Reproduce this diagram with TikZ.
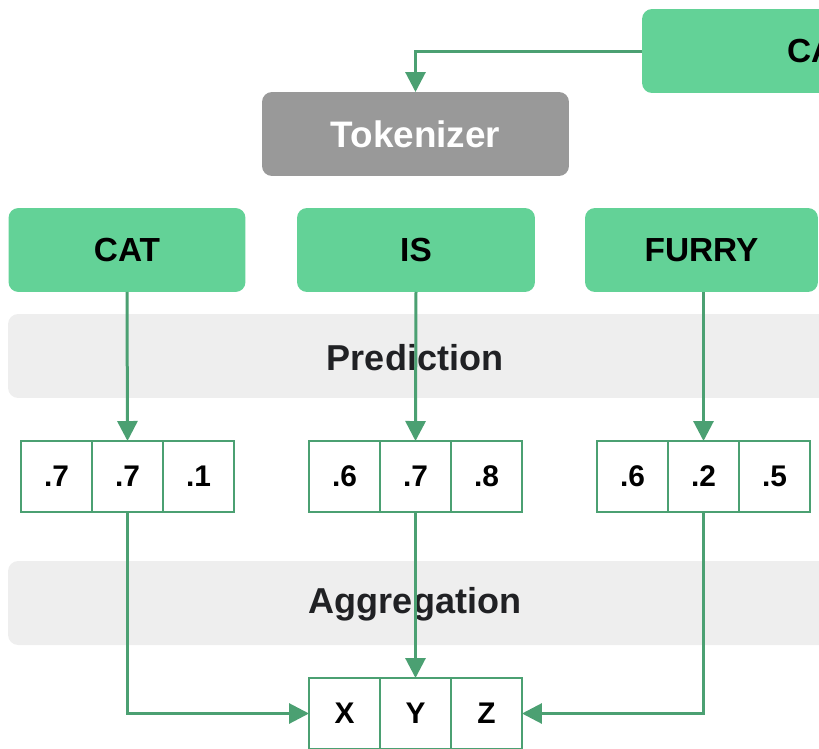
\documentclass[tikz,border=0pt]{standalone}
\usepackage{fontspec}
\setmainfont{Liberation Sans}
\usetikzlibrary{arrows.meta}
\definecolor{boxgreen}{HTML}{63D297}
\definecolor{linegreen}{HTML}{4BA072}
\definecolor{tokgray}{HTML}{999999}
\definecolor{bandgray}{HTML}{EEEEEE}
\definecolor{bandtext}{HTML}{202124}
\begin{document}
\begin{tikzpicture}[x=0.02cm,y=-0.02cm,
    word/.style={fill=boxgreen,rounded corners=0.2cm,minimum height=1.68cm,inner sep=0,outer sep=0,
        font=\fontsize{19}{22}\selectfont\bfseries},
    tokbox/.style={fill=tokgray,rounded corners=0.2cm,minimum width=6.14cm,minimum height=1.68cm,
        inner sep=0,outer sep=0,text=white,font=\fontsize{21}{24}\selectfont\bfseries},
    band/.style={fill=bandgray,rounded corners=0.2cm,minimum width=16.5cm,minimum height=1.68cm,
        inner sep=0,outer sep=0},
    bandlabel/.style={text=bandtext,font=\fontsize{20.5}{24}\selectfont\bfseries},
    cell/.style={draw=linegreen,line width=0.04cm,fill=white,minimum size=1.42cm,inner sep=0,
        outer sep=0,font=\fontsize{17}{20}\selectfont\bfseries},
    arr/.style={draw=linegreen,line width=0.06cm,-{Triangle[length=0.4cm,width=0.4cm]}}]
    \clip (0,0) rectangle (819,748);
    % bands
    \node[band] (predband) at (420.5,356) {};
    \node[band] (aggband) at (420.5,603) {};
    \node[bandlabel] (pred) at (415,358) {Prediction};
    \node[bandlabel] (agg) at (415,604) {Aggregation};
    % sentence, tokenizer, tokens
    \node[word,minimum width=10.4cm] (sent) at (902,51) {CAT IS FURRY};
    \node[tokbox] (tok) at (415.5,134) {Tokenizer};
    \node[word,minimum width=4.74cm] (cat) at (127,250) {CAT};
    \node[word,minimum width=4.76cm] (is) at (416,250) {IS};
    \node[word,minimum width=4.66cm] (furry) at (701.5,250) {FURRY};
    % scores
    \node[cell] (c1) at (56.5,476.5) {.7};
    \node[cell] (c2) at (127.5,476.5) {.7};
    \node[cell] (c3) at (198.5,476.5) {.1};
    \node[cell] (i1) at (344.5,476.5) {.6};
    \node[cell] (i2) at (415.5,476.5) {.7};
    \node[cell] (i3) at (486.5,476.5) {.8};
    \node[cell] (f1) at (632.5,476.5) {.6};
    \node[cell] (f2) at (703.5,476.5) {.2};
    \node[cell] (f3) at (774.5,476.5) {.5};
    % output
    \node[cell] (x) at (344.5,713.5) {X};
    \node[cell] (y) at (415.5,713.5) {Y};
    \node[cell] (z) at (486.5,713.5) {Z};
    % connectors
    \draw[arr] (sent.west) -| (tok.north);
    \draw[arr] (cat.south) -- (c2.north);
    \draw[arr] (is.south) -- (i2.north);
    \draw[arr] (furry.south -| f2.north) -- (f2.north);
    \draw[arr] (c2.south) |- (x.west);
    \draw[arr] (i2.south) -- (y.north);
    \draw[arr] (f2.south) |- (z.east);
\end{tikzpicture}
\end{document}
